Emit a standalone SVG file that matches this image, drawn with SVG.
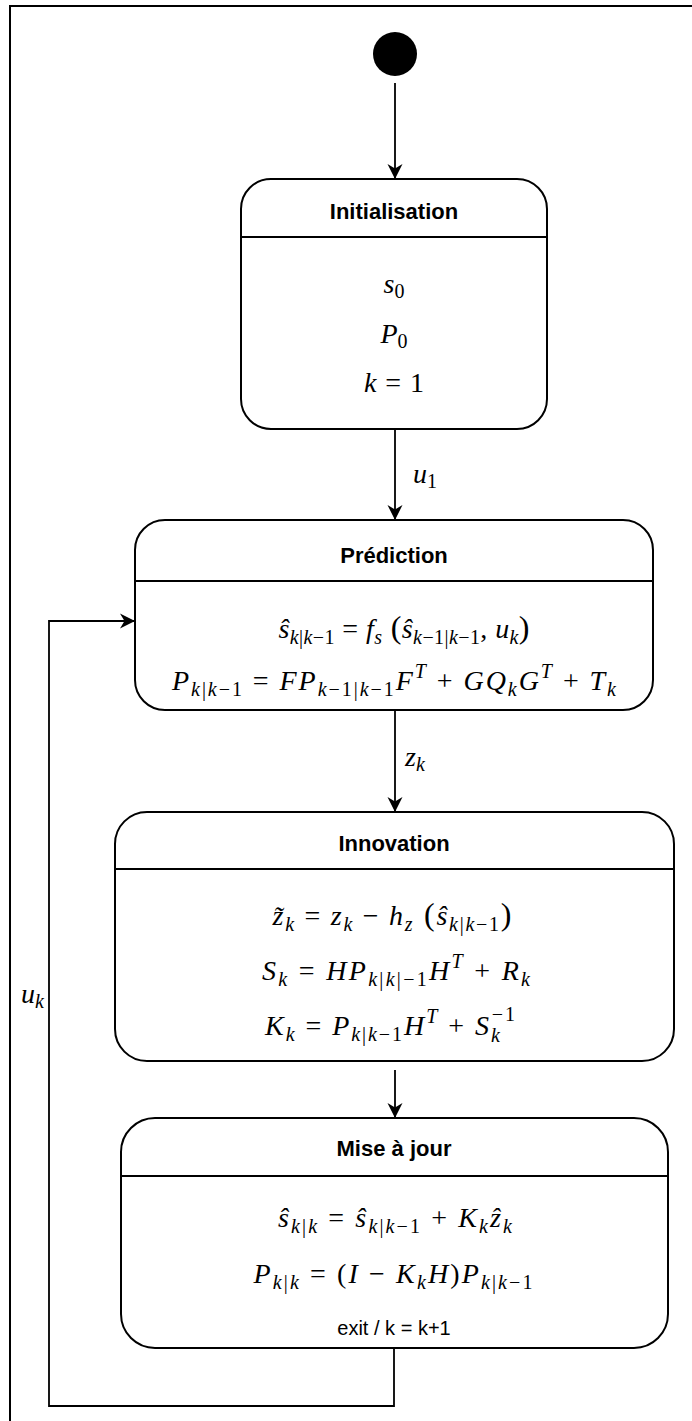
<svg xmlns="http://www.w3.org/2000/svg" width="692" height="1421" viewBox="0 0 692 1421">
<style>
.box{fill:#fff;stroke:#000;stroke-width:2}
.div{stroke:#000;stroke-width:2}
.edge{fill:none;stroke:#000;stroke-width:1.8}
.title{font-family:"Liberation Sans",Arial,sans-serif;font-weight:bold;font-size:22px;text-anchor:middle;fill:#000}
.txt{font-family:"Liberation Sans",Arial,sans-serif;font-size:20px;text-anchor:middle;fill:#000}
.m{font-family:"Liberation Serif","DejaVu Serif",serif;font-style:italic;font-size:28px;text-anchor:middle;fill:#000}
.ml{font-family:"Liberation Serif","DejaVu Serif",serif;font-style:italic;font-size:28px;fill:#000}
.u{font-style:normal}
.sb{font-size:20px}
.big{font-size:32px}
</style>
<defs>
<marker id="ah" markerUnits="userSpaceOnUse" markerWidth="16" markerHeight="16" viewBox="-16 -8 16 16" refX="0" refY="0" orient="auto" overflow="visible">
<path d="M0,0 L-15,-7.5 L-10.5,0 L-15,7.5 Z" fill="#000"/>
</marker>
</defs>
<rect x="10" y="6" width="700" height="1440" fill="#fff" stroke="#000" stroke-width="2"/>

<g id="connectors">
<line class="edge" x1="395" y1="83" x2="395" y2="179" marker-end="url(#ah)"/>
<line class="edge" x1="395" y1="429" x2="395" y2="520" marker-end="url(#ah)"/>
<text class="ml" x="413" y="483">u<tspan class="sb u" dy="5">1</tspan></text>
<line class="edge" x1="395" y1="710" x2="395" y2="812" marker-end="url(#ah)"/>
<text class="ml" x="405" y="766">z<tspan class="sb" dy="5">k</tspan></text>
<line class="edge" x1="395" y1="1070" x2="395" y2="1118" marker-end="url(#ah)"/>
<path class="edge" d="M394,1348 V1406 H49 V621 H135" marker-end="url(#ah)"/>
<text class="ml" x="21" y="1003">u<tspan class="sb" dy="5">k</tspan></text>
</g>

<g id="start">
<circle cx="395" cy="54" r="22" fill="#000"/>
</g>

<g id="initialisation">
<rect class="box" x="241" y="179" width="306" height="250" rx="30" ry="30"/>
<line class="div" x1="241" y1="237" x2="547" y2="237"/>
<text class="title" x="394" y="219">Initialisation</text>
<text class="m" x="394" y="293">s<tspan class="sb u" dy="5">0</tspan></text>
<text class="m" x="394" y="343">P<tspan class="sb u" dy="5">0</tspan></text>
<text class="m" x="394" y="392" textLength="60" lengthAdjust="spacing">k<tspan class="u"> = 1</tspan></text>
</g>

<g id="prediction">
<rect class="box" x="135" y="520" width="518" height="190" rx="30" ry="30"/>
<line class="div" x1="135" y1="581" x2="653" y2="581"/>
<text class="title" x="394" y="563">Prédiction</text>
<text class="m" x="404" y="638" textLength="251" lengthAdjust="spacing">ŝ<tspan class="sb" dy="6">k<tspan class="u">|</tspan>k<tspan class="u">−1</tspan></tspan><tspan class="u" dy="-6"> = </tspan>f<tspan class="sb" dy="6">s</tspan><tspan class="u big" dy="-6"> (</tspan>ŝ<tspan class="sb" dy="6">k<tspan class="u">−1|</tspan>k<tspan class="u">−1</tspan></tspan><tspan class="u" dy="-6">, </tspan>u<tspan class="sb" dy="6">k</tspan><tspan class="u big" dy="-6">)</tspan></text>
<text class="m" x="394" y="690" textLength="444" lengthAdjust="spacing">P<tspan class="sb" dy="6">k<tspan class="u">|</tspan>k<tspan class="u">−1</tspan></tspan><tspan class="u" dy="-6"> = </tspan>FP<tspan class="sb" dy="6">k<tspan class="u">−1|</tspan>k<tspan class="u">−1</tspan></tspan><tspan dy="-6">F</tspan><tspan class="sb" dy="-12">T</tspan><tspan class="u" dy="12"> + </tspan>GQ<tspan class="sb" dy="6">k</tspan><tspan dy="-6">G</tspan><tspan class="sb" dy="-12">T</tspan><tspan class="u" dy="12"> + </tspan>T<tspan class="sb" dy="6">k</tspan></text>
</g>

<g id="innovation">
<rect class="box" x="115" y="812" width="559" height="249" rx="32" ry="32"/>
<line class="div" x1="115" y1="869" x2="674" y2="869"/>
<text class="title" x="394" y="851">Innovation</text>
<text class="m" x="392" y="925" textLength="239" lengthAdjust="spacing">z̃<tspan class="sb" dy="6">k</tspan><tspan class="u" dy="-6"> = </tspan>z<tspan class="sb" dy="6">k</tspan><tspan class="u" dy="-6"> − </tspan>h<tspan class="sb" dy="6">z</tspan><tspan class="u big" dy="-6"> (</tspan>ŝ<tspan class="sb" dy="6">k<tspan class="u">|</tspan>k<tspan class="u">−1</tspan></tspan><tspan class="u big" dy="-6">)</tspan></text>
<text class="m" x="396" y="980" textLength="268" lengthAdjust="spacing">S<tspan class="sb" dy="6">k</tspan><tspan class="u" dy="-6"> = </tspan>HP<tspan class="sb" dy="6">k<tspan class="u">|</tspan>k<tspan class="u">|−1</tspan></tspan><tspan dy="-6">H</tspan><tspan class="sb" dy="-12">T</tspan><tspan class="u" dy="12"> + </tspan>R<tspan class="sb" dy="6">k</tspan></text>
<text class="m" x="390" y="1035" textLength="250" lengthAdjust="spacing">K<tspan class="sb" dy="6">k</tspan><tspan class="u" dy="-6"> = </tspan>P<tspan class="sb" dy="6">k<tspan class="u">|</tspan>k<tspan class="u">−1</tspan></tspan><tspan dy="-6">H</tspan><tspan class="sb" dy="-12">T</tspan><tspan class="u" dy="12"> + </tspan>S<tspan class="sb" dy="7">k</tspan><tspan class="sb u" dx="-10" dy="-21">−1</tspan></text>
</g>

<g id="mise-a-jour">
<rect class="box" x="121" y="1118" width="547" height="230" rx="34" ry="34"/>
<line class="div" x1="121" y1="1176" x2="668" y2="1176"/>
<text class="title" x="394" y="1156">Mise à jour</text>
<text class="m" x="395" y="1227" textLength="234" lengthAdjust="spacing">ŝ<tspan class="sb" dy="6">k<tspan class="u">|</tspan>k</tspan><tspan class="u" dy="-6"> = </tspan>ŝ<tspan class="sb" dy="6">k<tspan class="u">|</tspan>k<tspan class="u">−1</tspan></tspan><tspan class="u" dy="-6"> + </tspan>K<tspan class="sb" dy="6">k</tspan><tspan dy="-6">ẑ</tspan><tspan class="sb" dy="6">k</tspan></text>
<text class="m" x="393" y="1283" textLength="279" lengthAdjust="spacing">P<tspan class="sb" dy="6">k<tspan class="u">|</tspan>k</tspan><tspan class="u" dy="-6"> = (</tspan>I<tspan class="u"> − </tspan>K<tspan class="sb" dy="6">k</tspan><tspan dy="-6">H</tspan><tspan class="u">)</tspan>P<tspan class="sb" dy="6">k<tspan class="u">|</tspan>k<tspan class="u">−1</tspan></tspan></text>
<text class="txt" x="394" y="1335">exit / k = k+1</text>
</g>
</svg>
